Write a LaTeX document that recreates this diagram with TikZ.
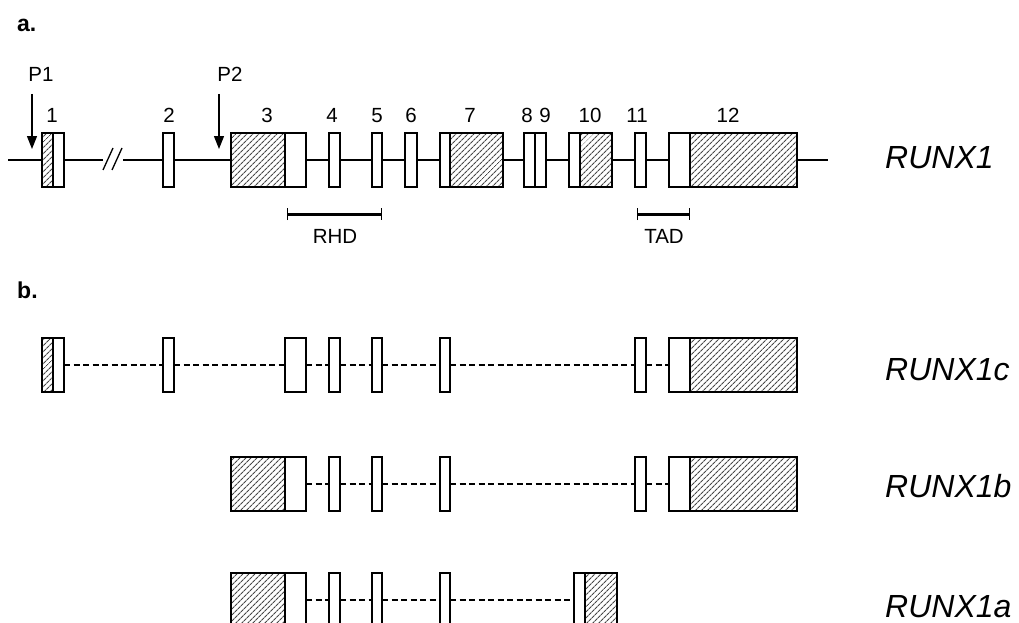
\documentclass[tikz,border=0pt]{standalone}
\usepackage{fontspec}
\setmainfont{Liberation Sans}
\usetikzlibrary{arrows.meta,patterns.meta}
\begin{document}
\begin{tikzpicture}[x=1pt,y=-1pt,
  exon/.style={draw=black,line width=1.3pt,fill=white,rectangle,inner sep=0pt,outer sep=0pt,minimum height=54pt,anchor=west},
  hexon/.style={exon,fill=white,pattern={Lines[angle=45,distance=4pt,line width=1.1pt]},pattern color=black!72},
  intron/.style={line width=1.3pt},
  dintron/.style={line width=1.3pt,dash pattern=on 6pt off 3.5pt},
  num/.style={font=\fontsize{20.5}{24}\selectfont,anchor=base,inner sep=0pt},
  lbl/.style={font=\fontsize{32}{38}\selectfont\itshape,anchor=base west,inner sep=0pt},
  panel/.style={font=\fontsize{23}{27}\selectfont\bfseries,anchor=base west,inner sep=0pt},
  prom/.style={line width=1.3pt,-{Triangle[length=13pt,width=10pt]}},
  dom/.style={line width=3pt,{Bar[width=12pt,line width=1.3pt]}-{Bar[width=12pt,line width=1.3pt]}}]
\useasboundingbox (0,0) rectangle (1019,623);
\fill[white] (0,0) rectangle (1019,623);

\node[panel] (pa) at (17,32) {a.};
\node[panel] (pb) at (17,298) {b.};

% ---------- panel a ----------
\coordinate (s) at (8,160);
\coordinate (t) at (828,160);
\coordinate (b1) at (103,160);
\coordinate (b2) at (123,160);
\node[hexon,minimum width=11pt] (a1h) at (42,160) {};
\node[exon,minimum width=11pt] (a1w) at (53,160) {};
\node[exon,minimum width=11pt] (a2) at (163,160) {};
\node[hexon,minimum width=54pt] (a3h) at (231,160) {};
\node[exon,minimum width=21pt] (a3w) at (285,160) {};
\node[exon,minimum width=11pt] (a4) at (329,160) {};
\node[exon,minimum width=10pt] (a5) at (372,160) {};
\node[exon,minimum width=12pt] (a6) at (405,160) {};
\node[exon,minimum width=10pt] (a7w) at (440,160) {};
\node[hexon,minimum width=53pt] (a7h) at (450,160) {};
\node[exon,minimum width=11pt] (a8) at (524,160) {};
\node[exon,minimum width=11pt] (a9) at (535,160) {};
\node[exon,minimum width=11pt] (a10w) at (569,160) {};
\node[hexon,minimum width=32pt] (a10h) at (580,160) {};
\node[exon,minimum width=11pt] (a11) at (635,160) {};
\node[exon,minimum width=21pt] (a12w) at (669,160) {};
\node[hexon,minimum width=107pt] (a12h) at (690,160) {};

\draw[intron] (s) -- (a1h.west);
\draw[intron] (a1w.east) -- (b1);
\draw[intron] (b2) -- (a2.west);
\draw[intron] (103,170) -- (113,148);
\draw[intron] (112,170) -- (122,148);
\draw[intron] (a2.east) -- (a3h.west);
\draw[intron] (a3w.east) -- (a4.west);
\draw[intron] (a4.east) -- (a5.west);
\draw[intron] (a5.east) -- (a6.west);
\draw[intron] (a6.east) -- (a7w.west);
\draw[intron] (a7h.east) -- (a8.west);
\draw[intron] (a9.east) -- (a10w.west);
\draw[intron] (a10h.east) -- (a11.west);
\draw[intron] (a11.east) -- (a12w.west);
\draw[intron] (a12h.east) -- (t);

\node[num] (n1) at (52,122) {1};
\node[num] (n2) at (169,122) {2};
\node[num] (n3) at (267,122) {3};
\node[num] (n4) at (332,122) {4};
\node[num] (n5) at (377,122) {5};
\node[num] (n6) at (411,122) {6};
\node[num] (n7) at (470,122) {7};
\node[num] (n8) at (527,122) {8};
\node[num] (n9) at (545,122) {9};
\node[num] (n10) at (590,122) {10};
\node[num] (n11) at (637,122) {11};
\node[num] (n12) at (728,122) {12};

\node[num] (P1) at (41,82) {P1};
\node[num] (P2) at (230,82) {P2};
\coordinate (p1s) at (32,94);
\coordinate (p1e) at (32,149);
\coordinate (p2s) at (219,94);
\coordinate (p2e) at (219,149);
\draw[prom] (p1s) -- (p1e);
\draw[prom] (p2s) -- (p2e);

\coordinate (rhd1) at (287,214);
\coordinate (rhd2) at (382,214);
\coordinate (tad1) at (637,214);
\coordinate (tad2) at (690,214);
\draw[dom] (rhd1) -- (rhd2);
\draw[dom] (tad1) -- (tad2);
\node[num] (RHD) at (335,243) {RHD};
\node[num] (TAD) at (664,243) {TAD};

\node[lbl] (L1) at (885,168) {RUNX1};

% ---------- RUNX1c ----------
\node[hexon,minimum width=11pt] (c1h) at (42,365) {};
\node[exon,minimum width=11pt] (c1w) at (53,365) {};
\node[exon,minimum width=11pt] (c2) at (163,365) {};
\node[exon,minimum width=21pt] (c3w) at (285,365) {};
\node[exon,minimum width=11pt] (c4) at (329,365) {};
\node[exon,minimum width=10pt] (c5) at (372,365) {};
\node[exon,minimum width=10pt] (c7w) at (440,365) {};
\node[exon,minimum width=11pt] (c11) at (635,365) {};
\node[exon,minimum width=21pt] (c12w) at (669,365) {};
\node[hexon,minimum width=107pt] (c12h) at (690,365) {};
\draw[dintron] (c1w.east) -- (c2.west);
\draw[dintron] (c2.east) -- (c3w.west);
\draw[dintron] (c3w.east) -- (c4.west);
\draw[dintron] (c4.east) -- (c5.west);
\draw[dintron] (c5.east) -- (c7w.west);
\draw[dintron] (c7w.east) -- (c11.west);
\draw[dintron] (c11.east) -- (c12w.west);
\node[lbl] (Lc) at (885,380) {RUNX1c};

% ---------- RUNX1b ----------
\node[hexon,minimum width=54pt] (b3h) at (231,484) {};
\node[exon,minimum width=21pt] (b3w) at (285,484) {};
\node[exon,minimum width=11pt] (b4) at (329,484) {};
\node[exon,minimum width=10pt] (b5) at (372,484) {};
\node[exon,minimum width=10pt] (b7w) at (440,484) {};
\node[exon,minimum width=11pt] (b11) at (635,484) {};
\node[exon,minimum width=21pt] (b12w) at (669,484) {};
\node[hexon,minimum width=107pt] (b12h) at (690,484) {};
\draw[dintron] (b3w.east) -- (b4.west);
\draw[dintron] (b4.east) -- (b5.west);
\draw[dintron] (b5.east) -- (b7w.west);
\draw[dintron] (b7w.east) -- (b11.west);
\draw[dintron] (b11.east) -- (b12w.west);
\node[lbl] (Lb) at (885,497) {RUNX1b};

% ---------- RUNX1a ----------
\node[hexon,minimum width=54pt] (x3h) at (231,600) {};
\node[exon,minimum width=21pt] (x3w) at (285,600) {};
\node[exon,minimum width=11pt] (x4) at (329,600) {};
\node[exon,minimum width=10pt] (x5) at (372,600) {};
\node[exon,minimum width=10pt] (x7w) at (440,600) {};
\node[exon,minimum width=11pt] (x10w) at (574,600) {};
\node[hexon,minimum width=32pt] (x10h) at (585,600) {};
\draw[dintron] (x3w.east) -- (x4.west);
\draw[dintron] (x4.east) -- (x5.west);
\draw[dintron] (x5.east) -- (x7w.west);
\draw[dintron] (x7w.east) -- (x10w.west);
\node[lbl] (La) at (885,617) {RUNX1a};
\end{tikzpicture}
\end{document}
